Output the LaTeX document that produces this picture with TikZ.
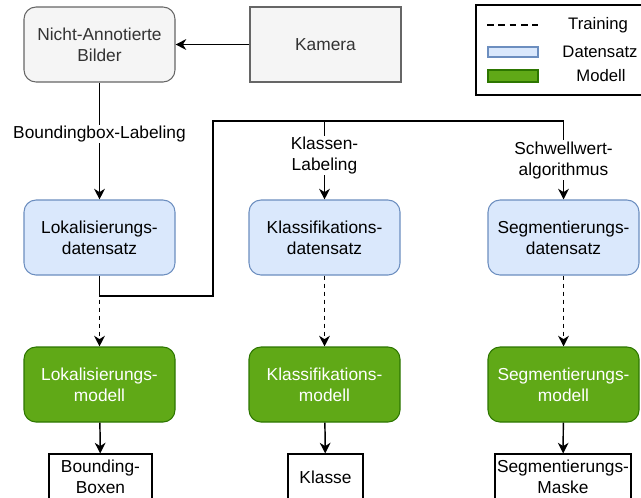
\documentclass[tikz,border=0pt]{standalone}
\usepackage{fontspec}
\setmainfont{Liberation Sans}
\usetikzlibrary{arrows.meta}

\definecolor{grayfill}{HTML}{F5F5F5}
\definecolor{grayline}{HTML}{666666}
\definecolor{graytext}{HTML}{333333}
\definecolor{dsfill}{HTML}{DAE8FC}
\definecolor{dsline}{HTML}{6C8EBF}
\definecolor{mfill}{HTML}{60A917}
\definecolor{mline}{HTML}{2D7600}

\begin{document}
\begin{tikzpicture}[x=0.75pt, y=-0.75pt,
  every node/.style={font=\fontsize{13}{15.5}\selectfont, align=center, inner sep=0pt},
  rbox/.style={draw, line width=0.8pt, rounded corners=9pt, minimum width=113.25pt, minimum height=56.25pt},
  source/.style={rbox, fill=grayfill, draw=grayline, text=graytext},
  dataset/.style={rbox, fill=dsfill, draw=dsline},
  model/.style={rbox, fill=mfill, draw=mline, text=white},
  result/.style={draw, line width=0.8pt, fill=white, minimum height=34.5pt},
  flow/.style={line width=1.1pt, -{Stealth[length=8pt, width=8pt, inset=2.5pt]}},
  train/.style={flow, dash pattern=on 3pt off 3pt},
  lbl/.style={fill=white, inner sep=1pt},
  key/.style={font=\fontsize{12.5}{14}\selectfont}]
\useasboundingbox (0,0) rectangle (641,497);

% sources
\node[source] (bilder) at (99.5,44.5) {Nicht-Annotierte\\Bilder};
\node[rbox, rounded corners=0pt, fill=grayfill, draw=grayline, text=graytext] (kamera) at (325.5,44.5) {Kamera};

% datasets
\node[dataset] (lokds) at (99.5,237.5) {Lokalisierungs-\\datensatz};
\node[dataset] (klassds) at (324.5,237.5) {Klassifikations-\\datensatz};
\node[dataset] (segds) at (563.5,237.5) {Segmentierungs-\\datensatz};

% models
\node[model] (lokmod) at (99.5,384.5) {Lokalisierungs-\\modell};
\node[model] (klassmod) at (324.5,384.5) {Klassifikations-\\modell};
\node[model] (segmod) at (563.5,384.5) {Segmentierungs-\\modell};

% results
\node[result, minimum width=77.25pt] (lokres) at (100.5,477) {Bounding-\\Boxen};
\node[result, minimum width=56.25pt] (klassres) at (325.5,477) {Klasse};
\node[result, minimum width=102pt] (segres) at (563,477) {Segmentierungs-\\Maske};

% labeling
\coordinate (kink1) at (213,296);
\coordinate (kink2) at (213,121);
\coordinate (split) at (324.5,121);
\draw[flow] (kamera) -- (bilder);
\draw[flow] (bilder) -- node[lbl, pos=0.44] {Boundingbox-Labeling} (lokds);
\draw[flow] (lokds.south) |- (kink1) -- (kink2) -| node[lbl, pos=0.75] {Schwellwert-\\algorithmus} (segds.north);
\draw[flow] (split) -- node[lbl, pos=0.44] {Klassen-\\Labeling} (klassds);

% training and prediction
\draw[train] (lokds) -- (lokmod);
\draw[train] (klassds) -- (klassmod);
\draw[train] (segds) -- (segmod);
\draw[flow] (lokmod) -- (lokres);
\draw[flow] (klassmod) -- (klassres);
\draw[flow] (segmod) -- (segres);

% legend
\draw[line width=0.8pt] (476,5) rectangle (660,95);
\coordinate (keyfrom) at (487,25);
\coordinate (keyto) at (538,25);
\draw[line width=1.5pt, dash pattern=on 5pt off 3.5pt] (keyfrom) -- (keyto);
\node[draw=dsline, fill=dsfill, line width=0.8pt, minimum width=37.5pt, minimum height=7.5pt] (keyds) at (513,52) {};
\node[draw=mline, fill=mfill, line width=0.8pt, minimum width=37.5pt, minimum height=9pt] (keymod) at (513,76) {};
\node[key] (keytrain) at (598,25) {Training};
\node[key] (keydata) at (600,52) {Datensatz};
\node[key] (keymodel) at (601,76) {Modell};
\end{tikzpicture}
\end{document}
